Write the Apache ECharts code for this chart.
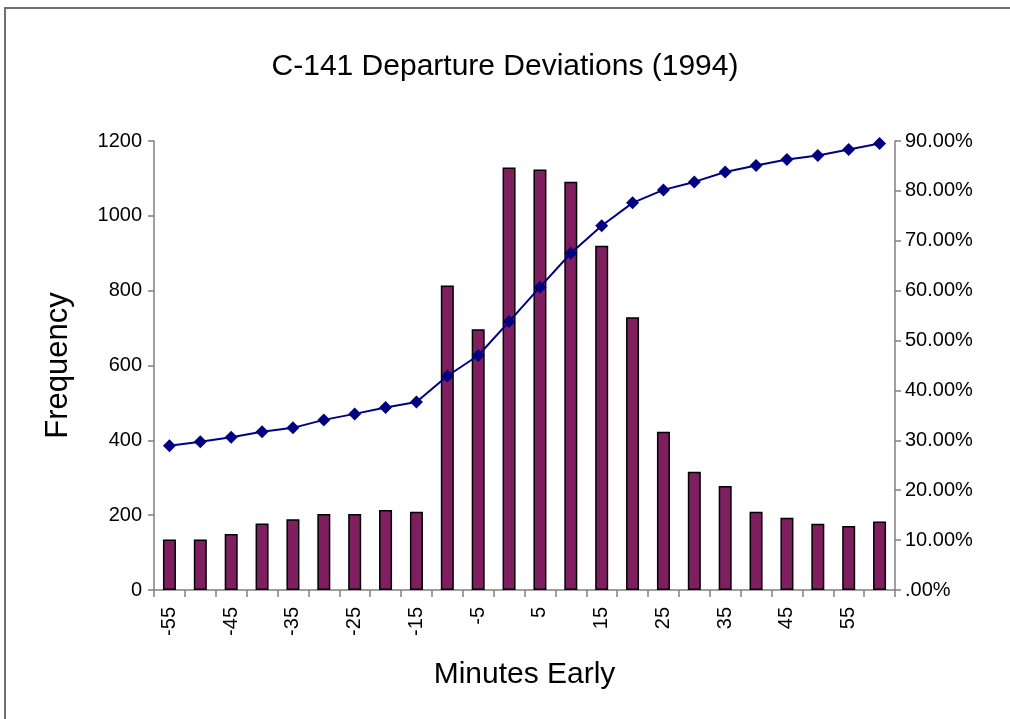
<!DOCTYPE html>
<html>
<head>
<meta charset="utf-8">
<script src="https://cdn.jsdelivr.net/npm/echarts@6/dist/echarts.min.js"></script>
<style>
  html, body { margin: 0; padding: 0; background: #fff; }
  #wrap { position: relative; width: 1010px; height: 719px; overflow: hidden; }
  #frame { position: absolute; left: 4px; top: 7px; width: 1100px; height: 800px; border-left: 2px solid #707070; border-top: 2px solid #707070; }
  #chart { position: absolute; left: 0; top: 0; width: 1010px; height: 719px; }
</style>
</head>
<body>
<div id="wrap">
  <div id="frame"></div>
  <div id="chart"></div>
</div>
<script>
// minutes early, one bin every 5 minutes
const minutes = [-55, -50, -45, -40, -35, -30, -25, -20, -15, -10, -5, 0, 5, 10, 15, 20, 25, 30, 35, 40, 45, 50, 55, 60]
const frequency = [135, 135, 150, 178, 189, 203, 203, 214, 209, 814, 697, 1129, 1124, 1091, 920, 729, 423, 316, 278, 209, 193, 177, 171, 183]
// cumulative percent
const cumulative = [28.9, 29.7, 30.6, 31.7, 32.5, 34.1, 35.3, 36.6, 37.7, 42.9, 47.0, 53.8, 60.7, 67.5, 73.0, 77.6, 80.2, 81.8, 83.8, 85.1, 86.3, 87.1, 88.3, 89.5]
const freqTicks = [0, 1200, 200]
const pctTicks = [0, 90, 10]

const font = "Arial, 'Liberation Sans', sans-serif"
const axisGray = "#808080"

const mychart = echarts.init(document.getElementById("chart"))
const option = {
  animation: false,
  textStyle: { fontFamily: font, color: "#000" },
  title: {
    text: "C-141 Departure Deviations (1994)",
    left: "center",
    top: 47,
    textStyle: { fontFamily: font, fontSize: 30, fontWeight: "normal", color: "#000" }
  },
  grid: { left: 154, right: 115, top: 141, bottom: 129, containLabel: false },
  xAxis: {
    type: "category",
    data: minutes.map(String),
    boundaryGap: true,
    name: "Minutes Early",
    nameLocation: "middle",
    nameGap: 70,
    nameTextStyle: { fontFamily: font, fontSize: 30, color: "#000" },
    axisLine: { lineStyle: { color: axisGray, width: 1.5 } },
    axisTick: { show: true, interval: 0, length: 7, lineStyle: { color: axisGray, width: 1.5 } },
    axisLabel: { interval: 1, rotate: 90, margin: 17, fontSize: 20, color: "#000", fontFamily: font },
    splitLine: { show: false }
  },
  yAxis: [
    {
      type: "value",
      min: freqTicks[0],
      max: freqTicks[1],
      interval: freqTicks[2],
      name: "Frequency",
      nameLocation: "middle",
      nameRotate: 90,
      nameGap: 80,
      nameTextStyle: { fontFamily: font, fontSize: 31, color: "#000" },
      axisLine: { show: true, lineStyle: { color: axisGray, width: 1.5 } },
      axisTick: { show: true, length: 6, lineStyle: { color: axisGray, width: 1.5 } },
      axisLabel: { fontSize: 20, color: "#000", margin: 12, fontFamily: font, formatter: function (v) { return String(v) } },
      splitLine: { show: false }
    },
    {
      type: "value",
      position: "right",
      min: pctTicks[0],
      max: pctTicks[1],
      interval: pctTicks[2],
      axisLine: { show: true, lineStyle: { color: axisGray, width: 1.5 } },
      axisTick: { show: true, length: 6, lineStyle: { color: axisGray, width: 1.5 } },
      axisLabel: {
        fontSize: 20,
        color: "#000",
        margin: 10,
        fontFamily: font,
        formatter: function (v) { return v === 0 ? ".00%" : v.toFixed(2) + "%" }
      },
      splitLine: { show: false }
    }
  ],
  series: [
    {
      name: "Frequency",
      type: "bar",
      yAxisIndex: 0,
      data: frequency,
      barWidth: 13,
      itemStyle: { color: "#7f1f5f", borderColor: "#000", borderWidth: 1.5 }
    },
    {
      name: "Cumulative %",
      type: "line",
      yAxisIndex: 1,
      data: cumulative,
      symbol: "diamond",
      symbolSize: 13,
      lineStyle: { color: "#000080", width: 2 },
      itemStyle: { color: "#000080" }
    }
  ]
}
mychart.setOption(option)
</script>
</body>
</html>
